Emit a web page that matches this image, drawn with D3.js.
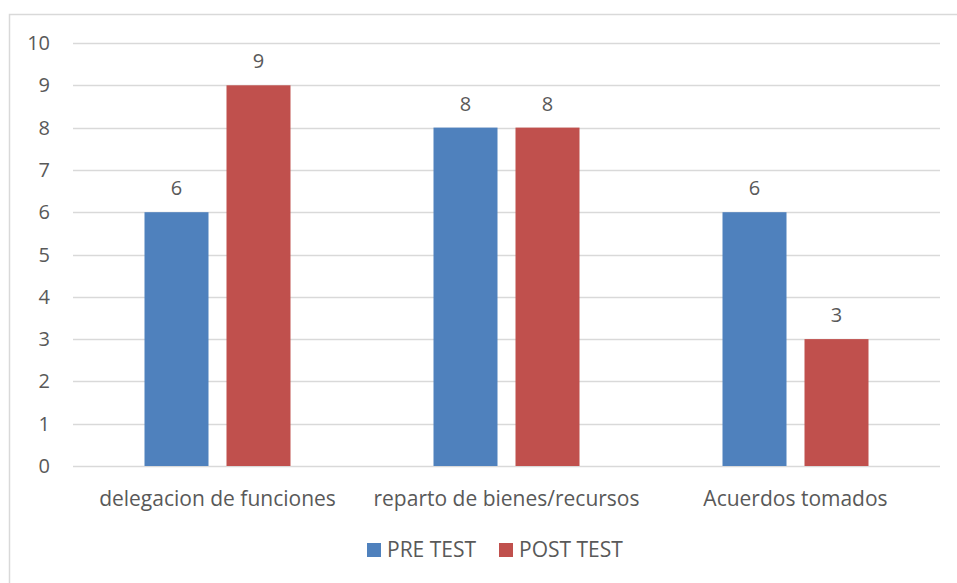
<!DOCTYPE html>
<html lang="en">
<head>
    <meta charset="utf-8">
    <script src='https://d3js.org/d3.v7.min.js'></script>
    <title>PRE TEST vs POST TEST</title>
    <style>
      body { margin: 0; background: #fff; }
      text { font-family: "Open Sans", Lato, sans-serif; fill: #595959; }
    </style>
</head>
<body>
  <script>
    var width = 957, height = 583;

    // chart data
    var categories = ['delegacion de funciones', 'reparto de bienes/recursos', 'Acuerdos tomados'];
    var seriesNames = ['PRE TEST', 'POST TEST'];
    var preTest = [6, 8, 6];
    var postTest = [9, 8, 3];
    var yTicks = [0, 1, 2, 3, 4, 5, 6, 7, 8, 9, 10];
    var colors = ['#4f81bd', '#c0504d'];

    var margin = {top: 43, right: 17, bottom: 117, left: 73};
    var plotW = width - margin.left - margin.right;
    var plotH = height - margin.top - margin.bottom;

    var svg = d3.select('body')
      .append('svg')
      .attr('width', width)
      .attr('height', height);

    // outer chart border
    svg.append('rect')
      .attr('x', 9.5).attr('y', 14.5)
      .attr('width', width + 10).attr('height', height + 10)
      .attr('fill', 'none')
      .attr('stroke', '#d9d9d9')
      .attr('stroke-width', 1.5);

    var g = svg.append('g')
      .attr('transform', 'translate(' + margin.left + ',' + margin.top + ')');

    var x0 = d3.scaleBand().domain(categories).range([0, plotW]);
    var x1 = d3.scaleBand().domain(seriesNames).range([0, 146]).paddingInner(18 / 146 * 2 / (1 + 18 / 146));
    var y = d3.scaleLinear().domain([0, 10]).range([plotH, 0]);

    // gridlines
    g.selectAll('.grid')
      .data(yTicks)
      .join('line')
      .attr('x1', 0).attr('x2', plotW)
      .attr('y1', function(d) { return Math.round(y(d)) + 0.5; })
      .attr('y2', function(d) { return Math.round(y(d)) + 0.5; })
      .attr('stroke', '#d9d9d9')
      .attr('stroke-width', 1.5);

    // y labels
    g.selectAll('.ylab')
      .data(yTicks)
      .join('text')
      .attr('x', -23)
      .attr('y', function(d) { return y(d); })
      .attr('dy', '0.35em')
      .attr('text-anchor', 'end')
      .style('font-size', '20px')
      .text(function(d) { return d; });

    var data = categories.map(function(c, i) {
      return {cat: c, vals: [{s: seriesNames[0], v: preTest[i], c: colors[0]}, {s: seriesNames[1], v: postTest[i], c: colors[1]}]};
    });

    var groups = g.selectAll('.grp')
      .data(data)
      .join('g')
      .attr('transform', function(d) { return 'translate(' + (x0(d.cat) + x0.bandwidth() / 2 - 73) + ',0)'; });

    groups.selectAll('rect')
      .data(function(d) { return d.vals; })
      .join('rect')
      .attr('x', function(d) { return x1(d.s); })
      .attr('width', x1.bandwidth())
      .attr('y', function(d) { return y(d.v); })
      .attr('height', function(d) { return plotH - y(d.v); })
      .attr('fill', function(d) { return d.c; });

    groups.selectAll('.val')
      .data(function(d) { return d.vals; })
      .join('text')
      .attr('x', function(d) { return x1(d.s) + x1.bandwidth() / 2; })
      .attr('y', function(d) { return y(d.v) - 17; })
      .attr('text-anchor', 'middle')
      .style('font-size', '20px')
      .text(function(d) { return d.v; });

    // category labels
    g.selectAll('.xlab')
      .data(categories)
      .join('text')
      .attr('x', function(d) { return x0(d) + x0.bandwidth() / 2; })
      .attr('y', plotH + 40)
      .attr('text-anchor', 'middle')
      .style('font-size', '21px')
      .text(function(d) { return d; });

    // legend
    var legendX = [367, 499];
    var legend = svg.selectAll('.leg')
      .data(seriesNames)
      .join('g')
      .attr('transform', function(d, i) { return 'translate(' + legendX[i] + ',543)'; });
    legend.append('rect')
      .attr('width', 14).attr('height', 14)
      .attr('fill', function(d, i) { return colors[i]; });
    legend.append('text')
      .attr('x', 20).attr('y', 7)
      .attr('dy', '0.35em')
      .style('font-size', '21px')
      .text(function(d) { return d; });
  </script>
</body>
</html>
